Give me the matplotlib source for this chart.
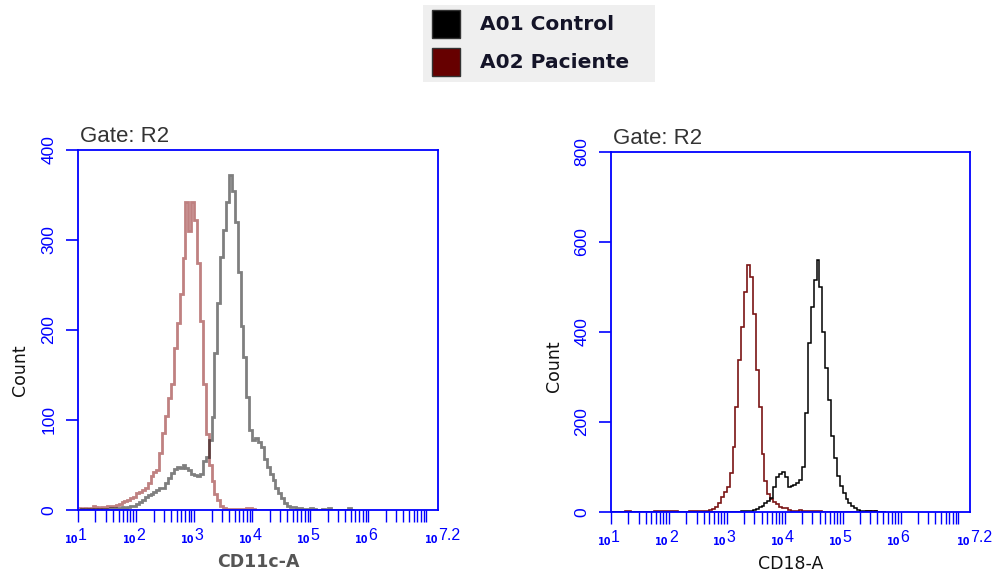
import numpy as np
import matplotlib
matplotlib.use("Agg")
import matplotlib.pyplot as plt
from matplotlib.patches import Rectangle

# ---------------- data ----------------
bin_start = 1.0          # log10 of first bin edge
bin_step = 0.05          # bin width in decades

cd11c_control = [0, 1, 0, 1, 0, 1, 1, 0, 1, 1,
                 1, 2, 1, 2, 2, 3, 2, 3, 4, 5,
                 7, 9, 11, 14, 17, 18, 20, 22, 24, 25,
                 30, 36, 41, 46, 48, 47, 50, 47, 44, 40,
                 39, 38, 40, 55, 59, 78, 103, 174, 230, 281,
                 311, 342, 372, 355, 320, 265, 205, 170, 126, 89,
                 78, 80, 76, 70, 57, 48, 40, 33, 25, 19,
                 13, 8, 5, 3, 3, 2, 2, 1, 1, 1,
                 2, 1, 0, 0, 1, 0, 2, 0, 0, 0,
                 0, 0, 0, 2, 0]
cd11c_patient = [2, 1, 2, 1, 2, 4, 3, 2, 3, 3,
                 4, 5, 5, 6, 7, 9, 10, 11, 13, 15,
                 19, 20, 22, 25, 30, 38, 42, 45, 63, 86,
                 105, 125, 140, 180, 208, 240, 280, 342, 310, 342,
                 322, 275, 210, 140, 85, 50, 32, 18, 11, 4,
                 2, 1, 1, 1, 1, 1, 1, 1, 2, 2,
                 1, 0, 0, 0, 0, 0, 0, 0, 0, 0,
                 0, 0, 0, 0, 0, 0, 0, 0, 0, 0,
                 0, 0, 0, 0, 0, 0, 0, 0, 0, 0,
                 0, 0, 0, 0, 0]
cd18_control = [0, 0, 0, 0, 0, 0, 0, 0, 0, 0,
                0, 0, 0, 0, 0, 0, 0, 0, 0, 0,
                0, 0, 0, 0, 0, 0, 0, 0, 0, 0,
                0, 0, 1, 1, 1, 1, 1, 1, 1, 1,
                1, 1, 1, 1, 1, 2, 2, 3, 3, 4,
                7, 11, 14, 20, 24, 31, 56, 78, 85, 89,
                78, 56, 58, 60, 64, 71, 100, 220, 376, 456,
                516, 560, 500, 400, 320, 250, 170, 120, 80, 58,
                42, 30, 20, 14, 9, 5, 3, 2, 2, 2,
                1, 2, 1, 0, 0]
cd18_patient = [0, 0, 0, 0, 0, 2, 2, 0, 0, 0,
                0, 0, 0, 0, 0, 2, 3, 2, 3, 2,
                3, 2, 2, 0, 0, 0, 0, 2, 2, 3,
                2, 2, 3, 3, 4, 6, 11, 20, 33, 45,
                56, 87, 144, 234, 338, 411, 490, 549, 522, 440,
                316, 233, 130, 70, 40, 28, 22, 18, 12, 10,
                8, 5, 3, 2, 3, 4, 3, 2, 3, 2,
                2, 3, 2, 0, 0, 0, 0, 0, 0, 0,
                0, 0, 0, 0, 0, 0, 0, 0, 2, 3,
                2, 2, 0, 0, 0]

x_min_exp, x_max_exp = 1.0, 7.2
decade_exps = [1, 2, 3, 4, 5, 6, 7.2]
decade_labels = ["1", "2", "3", "4", "5", "6", "7.2"]
left_yticks = [0, 100, 200, 300, 400]
right_yticks = [0, 200, 400, 600, 800]
legend_labels = ["A01 Control", "A02 Paciente"]
gate_label = "Gate: R2"

BLUE = "#0000ff"

fig = plt.figure(figsize=(9.93, 5.76), dpi=100)
fig.patch.set_facecolor("white")

ax1 = fig.add_axes([78 / 993, 66 / 576, 360 / 993, 360 / 576])
ax2 = fig.add_axes([611 / 993, 64 / 576, 359 / 993, 360 / 576])


def edges_for(vals):
    return 10 ** (bin_start + bin_step * np.arange(len(vals) + 1))


def style_axis(ax, yticks, xlabel, xlabel_color, xlabel_weight, ylab_xy):
    ax.set_xscale("log")
    ax.set_xlim(10 ** x_min_exp, 10 ** x_max_exp)
    ax.set_ylim(yticks[0], yticks[-1])
    for s in ax.spines.values():
        s.set_color(BLUE)
        s.set_linewidth(1.3)
    ax.set_yticks(yticks)
    ax.set_yticklabels([str(v) for v in yticks], rotation=90, va="center",
                       color=BLUE, fontsize=12.5, family="Liberation Sans")
    ax.tick_params(axis="y", direction="out", length=8.6, width=1.2,
                   color=BLUE, pad=7)
    ax.tick_params(axis="x", which="both", direction="out", length=8.6,
                   width=1.0, color=BLUE, labelbottom=False)
    ax.xaxis.set_major_locator(matplotlib.ticker.LogLocator(base=10, numticks=20))
    ax.xaxis.set_minor_locator(matplotlib.ticker.LogLocator(
        base=10, subs=np.arange(2, 10), numticks=20))
    tr = ax.get_xaxis_transform()
    for e, lab in zip(decade_exps, decade_labels):
        ax.text(10 ** e, -0.093, "10", transform=tr, ha="right", va="baseline",
                fontsize=7, fontweight="bold", color=BLUE, family="DejaVu Sans")
        ax.text(10 ** e, -0.083, lab, transform=tr, ha="left", va="baseline",
                fontsize=11.5, color=BLUE, family="Liberation Sans")
    ax.text(0.5, -0.145, xlabel, transform=ax.transAxes, ha="center",
            va="center", fontsize=12.5, color=xlabel_color,
            fontweight=xlabel_weight, family="DejaVu Sans")
    ax.text(ylab_xy[0], ylab_xy[1], "Count", transform=ax.transAxes,
            rotation=90, ha="center", va="center", fontsize=12.5,
            color="#111111", family="DejaVu Sans")
    ax.text(0.005, 1.008, gate_label, transform=ax.transAxes, ha="left",
            va="bottom", fontsize=16, color="#333333", family="Liberation Sans")


style_axis(ax1, left_yticks, "CD11c-A", "#555555", "bold", (-0.161, 0.389))
style_axis(ax2, right_yticks, "CD18-A", "#111111", "normal", (-0.159, 0.406))

ax1.stairs(cd11c_patient, edges_for(cd11c_patient), color="#8b1a1a",
           alpha=0.55, linewidth=2.0, baseline=None)
ax1.stairs(cd11c_control, edges_for(cd11c_control), color="#000000",
           alpha=0.5, linewidth=2.0, baseline=None)

ax2.stairs(cd18_patient, edges_for(cd18_patient), color="#7a1414",
           linewidth=1.2, baseline=None)
ax2.stairs(cd18_control, edges_for(cd18_control), color="#000000",
           linewidth=1.1, baseline=None)

# ---------------- legend ----------------
fig.patches.append(Rectangle((423 / 993, 1 - 82 / 576), 232 / 993, 77 / 576,
                             transform=fig.transFigure, facecolor="#efefef",
                             edgecolor="none", zorder=0))
legend_colors = ["#000000", "#660000"]
for i, (lab, col) in enumerate(zip(legend_labels, legend_colors)):
    top = 10 + i * 38
    fig.patches.append(Rectangle((432 / 993, 1 - (top + 28) / 576), 28 / 993,
                                 28 / 576, transform=fig.transFigure,
                                 facecolor=col, edgecolor="#333333",
                                 linewidth=1, zorder=1))
    fig.text(480 / 993, 1 - (top + 15) / 576, lab, ha="left", va="center",
             fontsize=14.5, fontweight="bold", color="#141428",
             family="DejaVu Sans")

fig.savefig("out.png", dpi=100, facecolor="white")
